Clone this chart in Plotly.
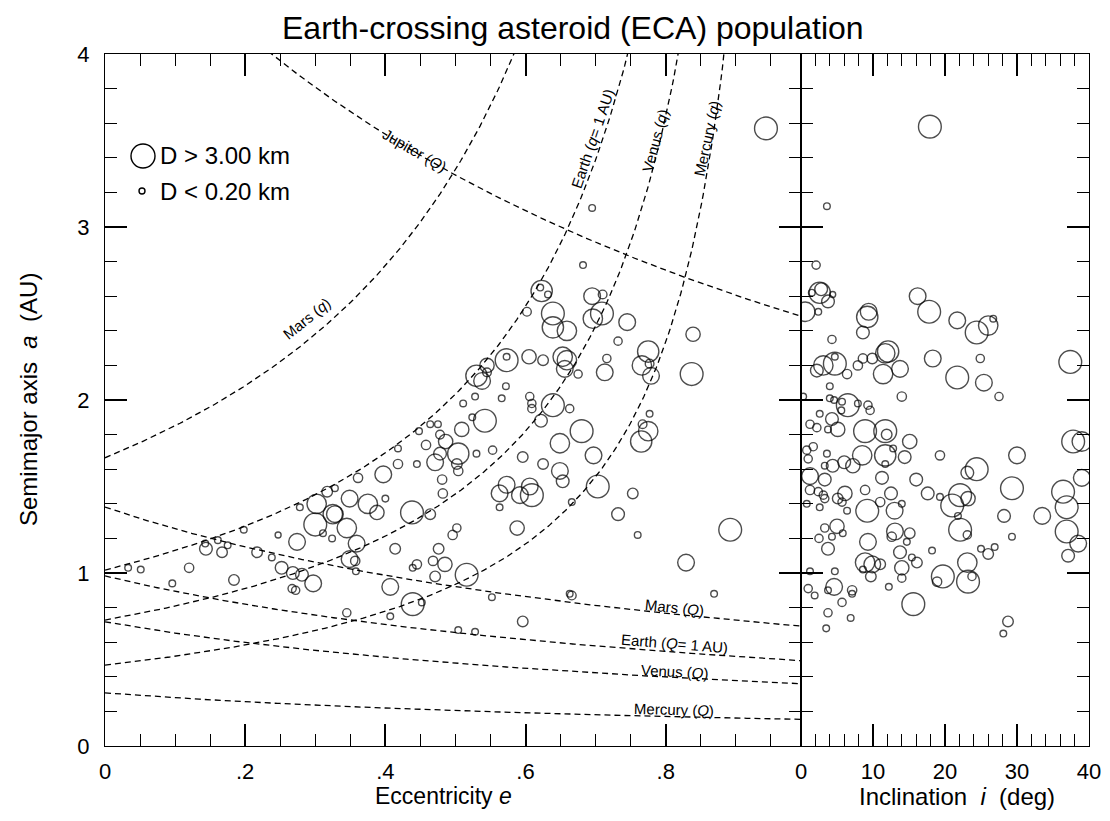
import numpy as np
import plotly.graph_objects as go

# ---------------- data ----------------
# Left panel: eccentricity e vs semimajor axis a (AU), D = estimated diameter (km)
ecc = [
    .033, .051, .096, .120, .144, .143, .161, .167, .175, .184,
    .198, .217, .238, .247, .252, .274, .268, .281, .297, .267,
    .272, .278, .302, .317, .328, .300, .325, .311, .324, .438,
    .464, .400, .388, .375, .349, .328, .345, .359, .349, .357,
    .358, .482, .563, .563, .592, .609, .588, .502, .496, .414,
    .476, .445, .439, .468, .485, .471, .516, .407, .439, .452,
    .345, .407, .504, .528, .552, .596, .663, .623, .621, .632,
    .602, .639, .639, .659, .573, .573, .605, .625, .653, .656,
    .545, .530, .538, .545, .572, .566, .606, .609, .609, .639,
    .622, .528, .511, .524, .542, .509, .464, .475, .448, .478,
    .486, .458, .504, .530, .553, .418, .478, .471, .502, .504,
    .418, .445, .397, .361, .481, .596, .625, .649, .649, .573,
    .606, .653, .682, .695, .710, .696, .709, .659, .675, .745,
    .732, .775, .766, .777, .779, .716, .713, .839, .837, .663,
    .680, .777, .767, .775, .765, .697, .703, .666, .753, .732,
    .760, .892, .829, .666, .869, .943, .695,
]
a_ecc = [
    1.03, 1.02, .94, 1.03, 1.14, 1.17, 1.19, 1.12, 1.16, .96,
    1.25, 1.12, 1.09, 1.22, 1.03, 1.18, 1.00, .99, .94, .91,
    .90, 1.38, 1.40, 1.47, 1.49, 1.28, 1.34, 1.23, 1.20, 1.35,
    1.34, 1.43, 1.35, 1.40, 1.43, 1.34, 1.26, 1.17, 1.08, 1.07,
    1.01, 1.46, 1.46, 1.38, 1.45, 1.45, 1.26, 1.26, 1.22, 1.14,
    1.14, 1.05, 1.03, 1.07, 1.05, .98, .99, .92, .82, .83,
    .77, .75, .67, .66, .86, .72, .88, 2.63, 2.65, 2.61,
    2.51, 2.50, 2.42, 2.40, 2.23, 2.25, 2.25, 2.23, 2.25, 2.18,
    2.20, 2.14, 2.11, 2.16, 2.08, 2.01, 2.02, 1.98, 1.95, 1.97,
    1.88, 2.02, 1.98, 1.90, 1.88, 1.83, 1.86, 1.86, 1.82, 1.80,
    1.76, 1.74, 1.69, 1.69, 1.71, 1.72, 1.69, 1.64, 1.63, 1.59,
    1.63, 1.63, 1.57, 1.55, 1.54, 1.67, 1.63, 1.75, 1.59, 1.51,
    1.50, 1.53, 2.78, 2.60, 2.61, 2.47, 2.50, 2.23, 2.15, 2.45,
    2.34, 2.28, 2.20, 2.21, 2.14, 2.24, 2.16, 2.38, 2.15, 1.95,
    1.82, 1.92, 1.86, 1.82, 1.76, 1.68, 1.50, 1.41, 1.46, 1.34,
    1.22, 1.25, 1.06, .87, .88, 3.57, 3.11,
]
diam_ecc = [
    .22, .22, .22, .33, .55, .22, .22, .4, .22, .4,
    .22, .4, .22, .2, .55, 1.0, .55, .55, 1.0, .28,
    .28, .22, 1.5, .4, .22, 2.5, 1.5, .22, .22, 2.5,
    .4, .22, .7, 1.5, 1.0, 1.0, 1.5, 1.0, 1.0, .33,
    .22, .33, 1.0, .22, 1.0, 2.5, .7, .28, .33, .4,
    .4, .33, .22, .33, .7, .4, 2.5, 1.0, 2.5, .22,
    .28, .22, .22, .22, .22, .4, .22, 2.0, .22, .22,
    .3, 2.5, 2.0, 1.5, 2.5, .22, .7, .4, 1.5, 1.0,
    .7, 2.0, 1.0, .3, .22, .22, .28, .28, .28, 2.5,
    .55, .22, .22, .22, 2.5, .7, .22, .22, .22, .3,
    .7, .33, 2.0, .22, .28, .22, .55, 1.0, .4, .33,
    .33, .22, 1.0, .33, .33, .4, .4, 1.5, 1.0, 1.0,
    1.0, .55, .22, 1.0, .3, 1.5, 2.5, 1.5, .28, 1.0,
    .28, 2.0, 1.5, .3, 1.0, .28, 1.0, .7, 2.5, .28,
    2.5, .22, .3, 1.5, 2.0, 1.0, 2.5, .22, .4, .55,
    .22, 2.5, 1.0, .3, .22, 2.5, .22,
]

# Right panel: inclination i (deg) vs semimajor axis a (AU)
inc = [
    17.9, 3.6, 2.1, 2.8, 2.6, 1.5, 3.75, 4.4, 0.6, 2.4,
    9.2, 9.4, 16.2, 17.8, 21.7, 26.0, 26.7, 24.4, 8.6, 4.3,
    12.1, 11.7, 11.4, 13.75, 9.9, 8.6, 7.9, 6.4, 4.7, 3.1,
    2.2, 4.7, 18.3, 24.9, 21.7, 25.4, 27.5, 37.4, 14.0, 4.0,
    0.3, 4.0, 4.6, 6.5, 5.7, 7.9, 9.3, 9.6, 5.6, 2.6,
    4.3, 5.1, 1.25, 2.2, 3.75, 8.9, 11.7, 11.9, 15.1, 1.7,
    0.8, 1.0, 3.6, 8.5, 11.7, 14.4, 12.8, 4.4, 6.0, 7.2,
    3.3, 11.7, 19.3, 24.4, 23.1, 30.0, 1.25, 3.3, 11.25, 16.0,
    29.3, 37.8, 39.0, 39.0, 36.4, 1.25, 2.4, 3.1, 3.3, 5.1,
    6.1, 5.7, 8.9, 12.5, 11.0, 9.2, 14.0, 13.0, 17.6, 19.3,
    22.1, 21.0, 23.2, 21.8, 0.8, 2.6, 6.4, 28.2, 33.5, 36.9,
    22.1, 23.1, 36.9, 38.5, 37.1, 29.3, 5.0, 3.3, 4.3, 5.8,
    2.5, 3.75, 9.3, 13.05, 12.6, 15.1, 14.7, 13.75, 15.4, 16.1,
    14.0, 14.0, 8.9, 9.9, 11.0, 8.6, 9.7, 18.2, 19.7, 18.9,
    23.1, 23.2, 23.75, 25.0, 26.0, 26.9, 1.25, 4.7, 1.0, 1.9,
    4.6, 3.75, 7.1, 7.1, 5.7, 3.75, 6.9, 3.5, 12.2, 15.6,
    28.75, 28.1,
]
a_inc = [
    3.58, 3.12, 2.78, 2.64, 2.62, 2.62, 2.57, 2.61, 2.51, 2.51,
    2.48, 2.51, 2.60, 2.51, 2.46, 2.43, 2.47, 2.39, 2.39, 2.35,
    2.28, 2.27, 2.15, 2.18, 2.24, 2.24, 2.20, 2.15, 2.21, 2.20,
    2.17, 2.25, 2.24, 2.24, 2.13, 2.10, 2.02, 2.22, 2.02, 2.08,
    2.02, 2.01, 2.00, 1.97, 1.99, 1.98, 1.97, 1.94, 1.94, 1.92,
    1.89, 1.83, 1.86, 1.84, 1.83, 1.82, 1.82, 1.80, 1.76, 1.73,
    1.71, 1.66, 1.69, 1.68, 1.68, 1.67, 1.72, 1.62, 1.64, 1.62,
    1.62, 1.63, 1.68, 1.60, 1.58, 1.68, 1.56, 1.54, 1.55, 1.54,
    1.49, 1.76, 1.76, 1.55, 1.47, 1.48, 1.47, 1.45, 1.43, 1.43,
    1.46, 1.41, 1.48, 1.46, 1.41, 1.36, 1.40, 1.36, 1.46, 1.44,
    1.45, 1.39, 1.43, 1.33, 1.40, 1.38, 1.36, 1.33, 1.33, 1.38,
    1.25, 1.22, 1.24, 1.17, 1.10, 1.21, 1.27, 1.26, 1.21, 1.23,
    1.20, 1.14, 1.18, 1.24, 1.21, 1.23, 1.18, 1.12, 1.09, 1.06,
    1.03, 0.97, 1.06, 1.05, 1.05, 1.02, 0.98, 1.13, 0.98, 0.95,
    1.06, 0.95, 0.98, 1.14, 1.11, 1.15, 1.01, 1.01, 0.91, 0.87,
    0.92, 0.90, 0.90, 0.88, 0.83, 0.77, 0.74, 0.68, 0.92, 0.82,
    0.72, 0.65,
]
diam_inc = [
    2.5, .22, .28, .55, 2.0, .22, .55, .2, 1.5, .22,
    2.0, 1.0, 1.0, 2.5, 1.0, 1.5, .22, 2.5, .55, .28,
    2.0, 1.5, 1.5, 1.0, .4, .33, .33, .33, 2.5, 1.5,
    .55, .22, 1.0, .28, 2.5, 1.0, .28, 2.5, .33, .22,
    .22, .22, .22, 2.5, .22, .22, .28, .28, .22, .22,
    .55, .7, .28, .28, .22, 2.5, 2.5, .4, .7, .28,
    .28, .28, .22, 1.5, 2.0, .55, .22, .55, .55, .7,
    .22, .22, .33, 2.5, .55, 1.0, 1.0, .55, .55, .55,
    2.5, 2.5, 1.5, 1.0, 2.5, .33, .28, .28, .28, .4,
    .7, .28, .33, .55, .33, 2.5, .22, 1.0, .55, .22,
    2.5, 2.5, .7, .22, .22, .22, .22, .55, 1.0, 2.5,
    2.5, .28, 2.5, 1.0, .55, .22, .7, .28, .22, .22,
    .28, .55, 1.0, 1.0, .33, .4, .22, .55, .22, .4,
    .7, .28, 1.5, 1.0, .4, .22, .4, .22, 2.5, .33,
    1.5, 2.5, .28, .22, .4, .22, .22, .22, .28, .22,
    1.0, .22, .33, .22, .28, .28, .22, .22, .22, 2.5,
    .4, .22,
]

# Planet orbit distances (AU) defining the crossing curves
peri_dist = [1.666, 1.0167, 0.728, 0.467]          # Mars, Earth, Venus, Mercury: a = d / (1 - e)
aph_dist = [4.95, 1.381, 0.983, 0.718, 0.307]     # Jupiter, Mars, Earth, Venus, Mercury: a = d / (1 + e)

x_tick_vals = [0, .2, .4, .6, .8]
x_tick_text = ["0", ".2", ".4", ".6", ".8"]
inc_tick_vals = [0, 10, 20, 30, 40]
a_tick_vals = [0, 1, 2, 3, 4]

# ---------------- figure ----------------
W, H = 1110, 821
FONT = "Liberation Sans, Arial, Helvetica, sans-serif"
NB = "\u00a0"


def msize(D):
    D = np.asarray(D, dtype=float)
    return 6 + 18 * np.log(np.clip(D, 0.2, 3.0) / 0.2) / np.log(15)


fig = go.Figure()

e_grid = np.linspace(0, 0.993, 400)
for d in peri_dist:
    a = d / (1 - e_grid)
    m = a < 4.6
    fig.add_trace(go.Scatter(x=e_grid[m], y=a[m], mode="lines",
                             line=dict(color="black", width=1.3, dash="6px,4px"),
                             hoverinfo="skip", showlegend=False, xaxis="x", yaxis="y"))
for d in aph_dist:
    a = d / (1 + e_grid)
    fig.add_trace(go.Scatter(x=e_grid, y=a, mode="lines",
                             line=dict(color="black", width=1.3, dash="6px,4px"),
                             hoverinfo="skip", showlegend=False, xaxis="x", yaxis="y"))

mk = dict(symbol="circle-open", color="black", line=dict(color="black", width=1.4))
fig.add_trace(go.Scatter(x=ecc, y=a_ecc, mode="markers",
                         marker=dict(size=msize(diam_ecc), **mk),
                         showlegend=False, xaxis="x", yaxis="y"))
fig.add_trace(go.Scatter(x=inc, y=a_inc, mode="markers",
                         marker=dict(size=msize(diam_inc), **mk),
                         showlegend=False, xaxis="x2", yaxis="y2"))

xl0, xl1, xr1 = 105, 801, 1089
ytop, ybot = 54, 746
dom_y = [(H - ybot) / H, (H - ytop) / H]

axis_common = dict(showgrid=False, zeroline=False, showline=True, linecolor="black",
                   linewidth=1.4, ticks="inside", tickcolor="black", tickwidth=1.5,
                   mirror="ticks", automargin=False,
                   tickfont=dict(family=FONT, size=22, color="black"))
minor_common = dict(ticks="inside", ticklen=12, tickwidth=1.3, tickcolor="black")

fig.update_layout(
    width=W, height=H, margin=dict(l=0, r=0, t=0, b=0, pad=0, autoexpand=False),
    paper_bgcolor="white", plot_bgcolor="white", showlegend=False,
    xaxis=dict(domain=[xl0 / W, xl1 / W], range=[0, 0.993], tickvals=x_tick_vals,
               ticktext=x_tick_text, ticklen=22, minor=dict(dtick=0.05, **minor_common),
               anchor="y", ticklabelstandoff=5, **axis_common),
    yaxis=dict(domain=dom_y, range=[0, 4], tickvals=a_tick_vals, ticklen=22,
               minor=dict(dtick=0.2, **minor_common),
               anchor="x", ticklabelstandoff=10, **axis_common),
    xaxis2=dict(domain=[xl1 / W, xr1 / W], range=[0, 40], tickvals=inc_tick_vals, ticklen=22,
                minor=dict(dtick=2, **minor_common),
                anchor="y2", ticklabelstandoff=5, **axis_common),
    yaxis2=dict(domain=dom_y, range=[0, 4], tickvals=a_tick_vals, ticklen=22, showticklabels=False,
                minor=dict(dtick=0.2, **minor_common),
                anchor="x2", **axis_common),
)


def pann(text, px, py, size, angle=0, xanchor="center"):
    return dict(text=text, x=px / W, y=(H - py) / H, xref="paper", yref="paper",
                xanchor=xanchor, yanchor="middle", showarrow=False, textangle=angle,
                font=dict(family=FONT, size=size, color="black"))


ann = [
    pann("Earth-crossing asteroid (ECA) population", 573, 28, 32),
    pann("Eccentricity" + NB + "<i>e</i>", 443, 796, 23),
    pann("Inclination" + NB * 2 + "<i>i</i>" + NB * 2 + "(deg)", 957, 796, 24),
    pann("Semimajor axis" + NB * 2 + "<i>a</i>" + NB * 2 + "(AU)", 28, 400, 24, angle=-90),
    pann("D > 3.00 km", 158, 156, 24, xanchor="left"),
    pann("D < 0.20 km", 158, 191, 24, xanchor="left"),
]

# curve labels (data coordinates of left panel)
lab_pos = [
    ("Mars (<i>q</i>)", 0.288, 2.47, -39),
    ("Jupiter (<i>Q</i>)", 0.442, 3.44, 30),
    ("Earth (<i>q</i>= 1 AU)", 0.696, 3.51, -71),
    ("Venus (<i>q</i>)", 0.785, 3.50, -75),
    ("Mercury (<i>q</i>)", 0.859, 3.51, -78),
    ("Mars (<i>Q</i>)", 0.813, 0.80, 6),
    ("Earth (<i>Q</i>= 1 AU)", 0.813, 0.59, 4.5),
    ("Venus (<i>Q</i>)", 0.813, 0.43, 3),
    ("Mercury (<i>Q</i>)", 0.812, 0.21, 1.5),
]
for t, x, y, ang in lab_pos:
    ann.append(dict(text=t, x=x, y=y, xref="x", yref="y", xanchor="center", yanchor="middle",
                    showarrow=False, textangle=ang,
                    font=dict(family=FONT, size=15, color="black")))
fig.update_layout(annotations=ann)

# legend symbols
shapes = []
for cx, cy, dsz in [(143, 156, msize(3.0)), (142, 191, msize(0.2))]:
    r = float(dsz) / 2
    shapes.append(dict(type="circle", xref="paper", yref="paper", xsizemode="pixel", ysizemode="pixel",
                       xanchor=cx / W, yanchor=(H - cy) / H, x0=-r, x1=r, y0=-r, y1=r,
                       line=dict(color="black", width=1.4)))
fig.update_layout(shapes=shapes)

fig.write_html("out.html")
